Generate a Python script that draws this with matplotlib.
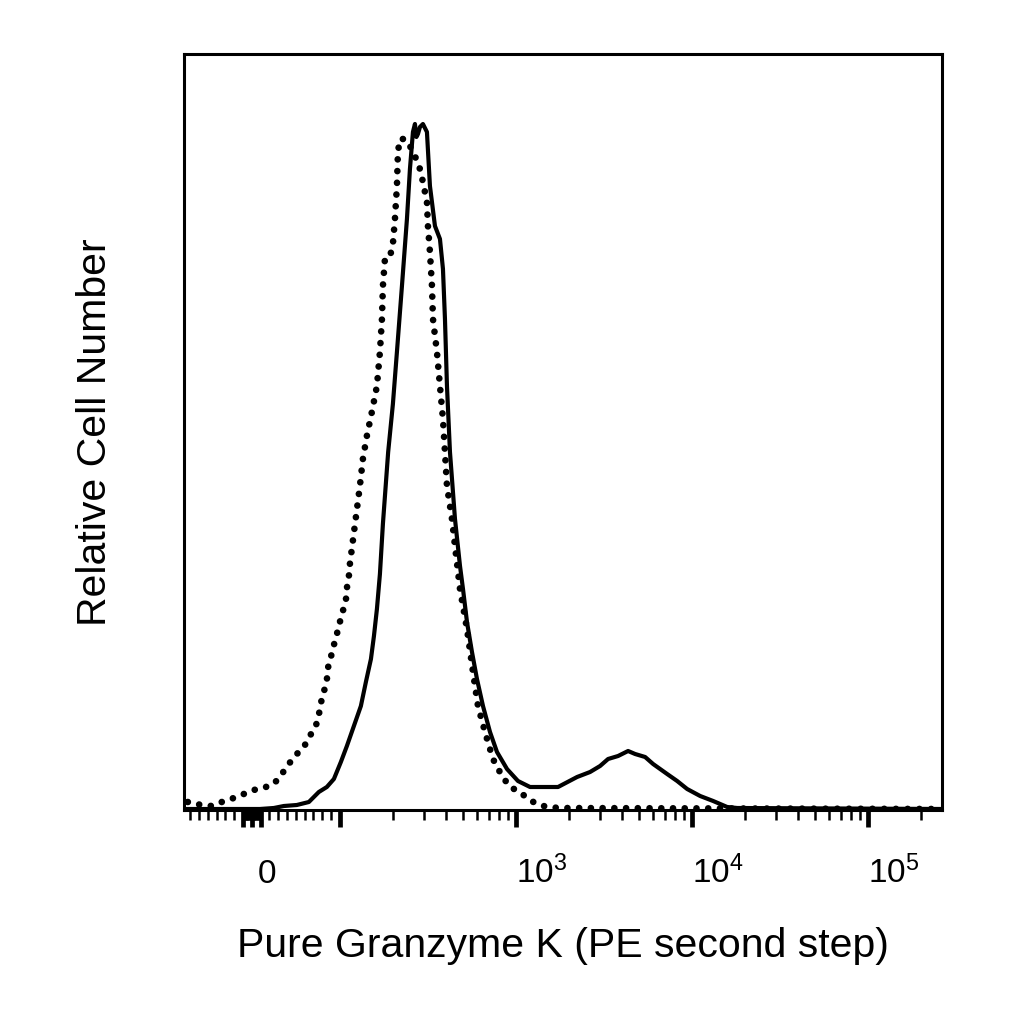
import matplotlib
matplotlib.use("Agg")
import matplotlib.pyplot as plt
import matplotlib.transforms as mtransforms
import numpy as np

plt.rcParams['font.family'] = ['Liberation Sans', 'DejaVu Sans']
plt.rcParams['mathtext.fontset'] = 'custom'
plt.rcParams['mathtext.rm'] = 'Liberation Sans'
plt.rcParams['mathtext.it'] = 'Liberation Sans'

# Stained sample (solid line): fluorescence value, relative cell count
solid_x = [-77, 9.1, 25, 36.4, 51.1, 64.8, 76.1, 85.2, 93.2, 101.3, 109.6, 120.1,
           131.6, 140.5, 150.1, 156.1, 162.3, 168.8, 175.5, 188.0, 200.0, 210.8,
           225.1, 240.3, 249.9, 259.9, 266.8, 272.0, 277.5, 284.8, 296.2, 312.1,
           324.6, 346.6, 370.0, 384.8, 395.0, 405.5, 421.7, 450.3, 480.8, 500.0,
           526.8, 562.3, 600.2, 649.4, 711.7, 779.8, 888.9, 1026, 1201, 1732,
           2222, 2633, 3001, 3332, 3797, 4328, 4745, 5408, 6002, 7211, 8220,
           9368, 11105, 13162, 15806, 18020, 262144]
solid_y = [0, 0, 1, 3, 4, 7, 17, 22, 30, 47, 63, 83,
           103, 127, 150, 173, 200, 235, 285, 357, 405, 457,
           523, 590, 640, 677, 685, 672, 675, 682, 685, 677,
           623, 583, 570, 540, 490, 423, 357, 290, 243, 220,
           187, 157, 130, 103, 77, 57, 40, 28, 22, 22,
           32, 37, 43, 50, 53, 58, 55, 52, 45, 35, 28,
           20, 13, 8, 2, 1, 0]

# Control (dotted line)
dot_x = [-72.7, -69.3, -58.0, -45.5, -34.1, -20.5, -9.1, 2.3, 15.9, 25, 34.1,
         42.0, 50.0, 59.1, 65.9, 72.7, 76.1, 78.4, 81.8, 85.2, 86.4, 89.8,
         93.2, 96.6, 100, 104.0, 108.2, 109.6, 112.5, 114.0, 129.9, 135.1,
         142.3, 151.9, 162.3, 168.8, 173.3, 175.5, 180.2, 192.3, 200.0, 205.4,
         210.8, 213.6, 219.3, 234.2, 249.9, 266.8, 284.8, 296.2, 312.1, 316.2,
         324.6, 333.3, 337.7, 355.7, 370.0, 384.8, 395.0, 405.5, 432.9, 450.3,
         480.8, 526.8, 569.7, 608.1, 666.6, 740.0, 832.6, 924.5, 1054, 1170,
         1316, 1500, 1778, 262144]
dot_y = [7, 7, 4, 3, 7, 11, 15, 19, 22, 25, 35,
         45, 54, 62, 73, 83, 94, 106, 117, 129, 141, 152,
         164, 175, 187, 198, 209, 221, 233, 245, 323, 350,
         373, 397, 423, 457, 490, 523, 550, 552, 565, 590,
         623, 657, 670, 670, 663, 653, 640, 627, 607, 583,
         557, 523, 490, 457, 423, 390, 357, 323, 290, 263,
         220, 180, 137, 103, 77, 50, 33, 22, 17, 10,
         5, 2, 1, 0]

major_ticks = [-10, 0, 10, 100, 1e3, 1e4, 1e5]
major_labels = ['', '0', '', '', r'$10^3$', r'$10^4$', r'$10^5$']
minor_ticks = ([-70, -60, -50, -40, -30, -20] + list(range(-9, 0)) + list(range(1, 10)) +
               list(range(20, 100, 10)) + list(range(200, 1000, 100)) +
               list(range(2000, 10000, 1000)) + list(range(20000, 100000, 10000)) + [200000])

fig = plt.figure(figsize=(10.24, 10.24), dpi=100)
ax = fig.add_axes([184 / 1024, 1 - 810 / 1024, 758 / 1024, 756 / 1024])

ax.plot(solid_x, solid_y, color='black', lw=3.0, solid_joinstyle='round')
ax.plot(dot_x, dot_y, color='black', lw=4.8, linestyle=(0, (0.01, 1.75)),
        dash_capstyle='round')

ax.set_xscale('symlog', linthresh=100, linscale=0.45, base=10)
ax.set_xlim(-77, 262144)
ax.set_ylim(-1, 755)

ax.set_xticks(major_ticks)
ax.set_xticklabels(major_labels)
ax.set_xticks(minor_ticks, minor=True)
ax.set_yticks([])

ax.tick_params(axis='x', which='major', direction='out', length=12.5, width=3.4,
               labelsize=24, pad=40)
ax.tick_params(axis='x', which='minor', direction='out', length=7.5, width=1.8)
offset = mtransforms.ScaledTranslation(4 / 72, 0, fig.dpi_scale_trans)
for lab in ax.get_xticklabels():
    lab.set_ha('left')
    lab.set_va('baseline')
    if lab.get_text() == '0':
        lab.set_transform(lab.get_transform() + offset)

for s in ax.spines.values():
    s.set_linewidth(2.2)

ax.set_xlabel('Pure Granzyme K (PE second step)', fontsize=29.5)
ax.xaxis.label.set_va('baseline')
ax.xaxis.set_label_coords(0.5, -0.1944)
ax.set_ylabel('Relative Cell Number', fontsize=29.5)
ax.yaxis.label.set_va('center')
ax.yaxis.set_label_coords(-0.1174, 0.5)

fig.savefig('out.png', dpi=100)
